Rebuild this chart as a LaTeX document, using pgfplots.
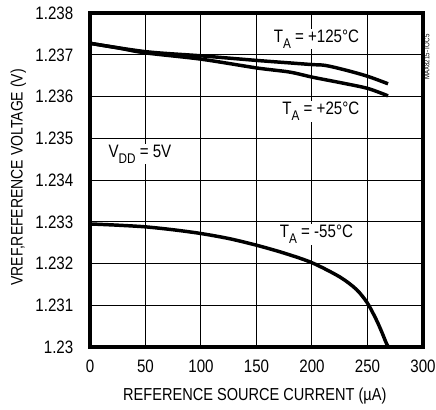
\documentclass[border=0pt]{standalone}
\usepackage{fontspec}
\setmainfont[FakeStretch=0.84]{Liberation Sans}
\usepackage{pgfplots}
\pgfplotsset{compat=1.18}
\newcommand{\sub}[1]{\raisebox{-0.3em}{\fontsize{10.5}{12}\selectfont #1}}

\pgfplotstableread{
x y
0 1.23295
25 1.23292
50 1.23288
75 1.23281
100 1.23272
125 1.23260
150 1.23244
175 1.23225
200 1.23202
225 1.23168
240 1.23138
250 1.23105
258 1.23065
263 1.23035
266.5 1.23012
268.8 1.23000
}\coldtab

\pgfplotstableread{
x y
0 1.23728
50 1.23708
100 1.23698
150 1.23687
180 1.23681
200 1.23677
212 1.23675
230 1.23664
250 1.23649
268.5 1.23631
}\hottab

\pgfplotstableread{
x y
0 1.23728
25 1.23717
50 1.23705
100 1.23690
150 1.23669
180 1.23659
200 1.23647
225 1.23634
250 1.23620
268.5 1.23602
}\roomtab

\begin{document}
\begin{tikzpicture}
\begin{axis}[
    scale only axis,
    width=249.75pt,
    height=250.3pt,
    xmin=0, xmax=300,
    ymin=1.23, ymax=1.238,
    xtick={0,50,...,300},
    ytick={1.23,1.231,...,1.2385},
    yticklabels={1.23,1.231,1.232,1.233,1.234,1.235,1.236,1.237,1.238},
    grid=both,
    grid style={black, line width=0.75pt},
    axis line style={line width=3pt},
    tick style={draw=none},
    ticklabel style={font=\fontsize{13.5}{15}\selectfont},
    xticklabel style={yshift=-6pt},
    yticklabel style={xshift=-9pt},
    /pgf/number format/assume math mode=true,
    xlabel={REFERENCE SOURCE CURRENT (µA)},
    ylabel={VREF,REFERENCE VOLTAGE (V)},
    xlabel style={font=\fontsize{13}{15}\selectfont, at={(axis description cs:0.495,0)}, anchor=center, yshift=-37pt},
    ylabel style={font=\fontsize{12.5}{14}\selectfont, at={(axis description cs:-0.215,0.508)}, anchor=center},
    clip=false,
]
\addplot[black, line width=2.6pt, smooth] table[x=x, y=y] {\coldtab};
\addplot[black, line width=2.6pt, smooth] table[x=x, y=y] {\hottab};
\addplot[black, line width=2.6pt, smooth] table[x=x, y=y] {\roomtab};
\node[font=\fontsize{13.5}{15}\selectfont, fill=white, inner sep=1pt] at (axis cs:204,1.23738) {T\sub{A} = +125°C};
\node[font=\fontsize{13.5}{15}\selectfont, fill=white, inner sep=1pt] at (axis cs:208,1.23565) {T\sub{A} = +25°C};
\node[font=\fontsize{13.5}{15}\selectfont, fill=white, inner sep=1pt] at (axis cs:45,1.23462) {V\sub{DD} = 5V};
\node[font=\fontsize{13.5}{15}\selectfont, fill=white, inner sep=1pt] at (axis cs:204,1.2327) {T\sub{A} = -55°C};
\node[font=\fontsize{5.5}{6}\selectfont, rotate=90] at (axis cs:303.5,1.23695) {MAX8215-TOC5};
\end{axis}
\pgfresetboundingbox
\path[use as bounding box] (-67.5pt,-47.25pt) rectangle (259.5pt,260.25pt);
\end{tikzpicture}
\end{document}
